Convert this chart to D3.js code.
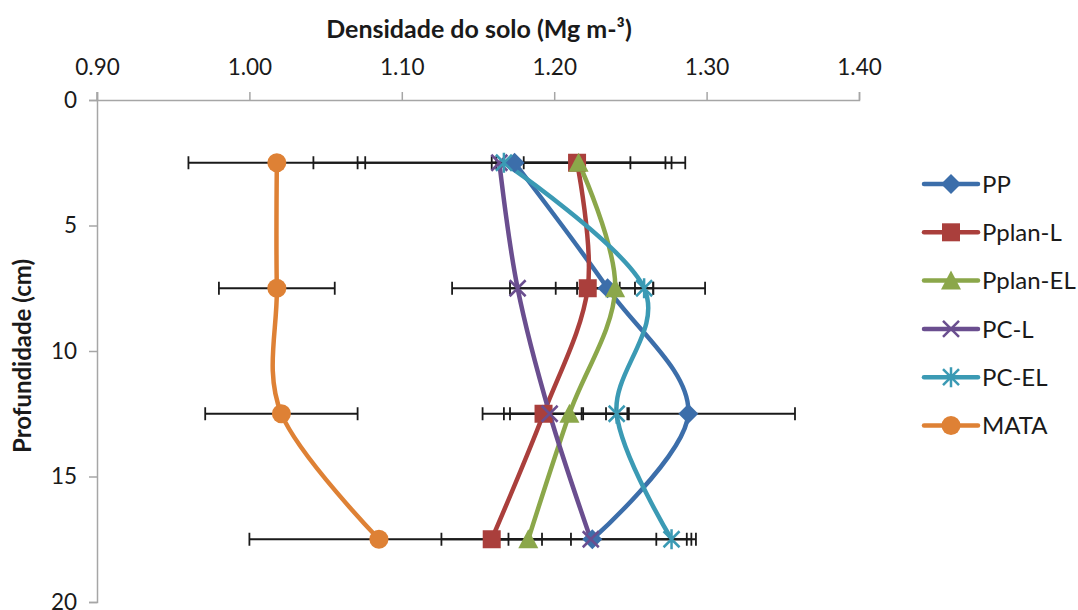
<!DOCTYPE html>
<html><head><meta charset="utf-8">
<script src="https://cdn.jsdelivr.net/npm/d3@7"></script>
<style>body{margin:0;background:#fff}svg{display:block}text{font-family:Lato,"Open Sans",sans-serif;fill:#1a1a1a}</style>
</head><body>
<svg id="c" width="1078" height="610"></svg>
<script>
const depths = [2.5, 7.5, 12.5, 17.5];
const seriesNames = ["PP", "Pplan-L", "Pplan-EL", "PC-L", "PC-EL", "MATA"];
const PP = [1.174, 1.235, 1.288, 1.225];
const PPerr = [0.103, 0.064, 0.070, 0.068];
const PplanL = [1.215, 1.222, 1.193, 1.159];
const PplanLerr = [0.035, 0.021, 0.026, 0.033];
const PplanEL = [1.216, 1.240, 1.210, 1.183];
const PplanELerr = [0.057, 0.025, 0.039, 0.028];
const PCL = [1.164, 1.176, 1.197, 1.224];
const PCLerr = [0.122, 0.043, 0.044, 0.066];
const PCEL = [1.167, 1.259, 1.241, 1.277];
const PCELerr = [0.005, 0.006, 0.007, 0.010];
const MATA = [1.018, 1.018, 1.021, 1.085];
const MATAerr = [0.058, 0.038, 0.050, 0.085];
const xTicks = [0.9, 1.0, 1.1, 1.2, 1.3, 1.4];
const yTicks = [0, 5, 10, 15, 20];
const colors = ["#3c6eaa", "#aa3f3c", "#8ba74a", "#6a4e8f", "#3b9ab4", "#de8135"];
const markers = ["diamond", "square", "triangle", "x", "star", "circle"];
const vals = [PP, PplanL, PplanEL, PCL, PCEL, MATA];
const errs = [PPerr, PplanLerr, PplanELerr, PCLerr, PCELerr, MATAerr];

const svg = d3.select("#c");
const x = d3.scaleLinear().domain([0.9, 1.4]).range([97, 859]);
const y = d3.scaleLinear().domain([0, 20]).range([100, 602]);

// axes
const xAxis = svg.append("g").attr("transform", `translate(0,${y(0)})`)
  .call(d3.axisTop(x).tickValues(xTicks).tickFormat(d3.format(".2f")).tickSize(8).tickPadding(17));
const yAxis = svg.append("g").attr("transform", `translate(${x(0.9)},0)`)
  .call(d3.axisLeft(y).tickValues(yTicks).tickSize(8).tickPadding(12));
[xAxis, yAxis].forEach(a => {
  a.select(".domain").attr("stroke", "#a6a6a6").attr("stroke-width", 1.5);
  a.selectAll(".tick line").attr("stroke", "#a6a6a6").attr("stroke-width", 1.5);
  a.selectAll(".tick text").attr("font-size", 22.5).attr("font-family", "Lato").attr("fill", "#1a1a1a");
});
svg.append("line").attr("x1", x(0.9)).attr("x2", x(0.9)).attr("y1", y(0) - 8).attr("y2", y(0)).attr("stroke", "#a6a6a6").attr("stroke-width", 1.5);

svg.append("text").attr("x", 479).attr("y", 38).attr("text-anchor", "middle")
  .attr("font-size", 25).attr("font-weight", "bold").text("Densidade do solo (Mg m-³)");
svg.append("text").attr("transform", `translate(31,${356}) rotate(-90)`).attr("text-anchor", "middle")
  .attr("font-size", 24).attr("font-weight", "bold").text("Profundidade (cm)");

const line = d3.line().x(d => x(d[0])).y(d => y(d[1])).curve(d3.curveCatmullRom.alpha(0));

function drawMarker(g, type, color) {
  if (type === "diamond") g.append("path").attr("d", "M0,-10L10,0L0,10L-10,0Z").attr("fill", color);
  else if (type === "square") g.append("rect").attr("x", -9).attr("y", -9).attr("width", 18).attr("height", 18).attr("fill", color);
  else if (type === "triangle") g.append("path").attr("d", "M0,-10L10,9L-10,9Z").attr("fill", color);
  else if (type === "circle") g.append("circle").attr("r", 9.5).attr("fill", color);
  else if (type === "x") g.append("path").attr("d", "M-8,-8L8,8M-8,8L8,-8").attr("stroke", color).attr("stroke-width", 2.5);
  else if (type === "star") g.append("path").attr("d", "M-8,-8L8,8M-8,8L8,-8M0,-10L0,10").attr("stroke", color).attr("stroke-width", 2.5);
}

const plot = svg.append("g");
vals.forEach((v, i) => {
  const pts = v.map((d, j) => [d, depths[j]]);
  plot.append("path").attr("d", line(pts)).attr("fill", "none").attr("stroke", colors[i])
    .attr("stroke-width", 4.5).attr("stroke-linecap", "round");
});
vals.forEach((v, i) => {
  v.forEach((d, j) => {
    const e = errs[i][j], yy = y(depths[j]);
    const g = plot.append("g").attr("stroke", "#1a1a1a").attr("stroke-width", 1.8);
    g.append("line").attr("x1", x(d - e)).attr("x2", x(d + e)).attr("y1", yy).attr("y2", yy);
    [d - e, d + e].forEach(c => g.append("line").attr("x1", x(c)).attr("x2", x(c)).attr("y1", yy - 6.5).attr("y2", yy + 6.5));
  });
});
vals.forEach((v, i) => {
  v.forEach((d, j) => {
    const g = plot.append("g").attr("transform", `translate(${x(d)},${y(depths[j])})`);
    drawMarker(g, markers[i], colors[i]);
  });
});

// legend
const leg = svg.append("g");
seriesNames.forEach((n, i) => {
  const yy = 184 + i * 48.3;
  leg.append("line").attr("x1", 924).attr("x2", 978).attr("y1", yy).attr("y2", yy)
    .attr("stroke", colors[i]).attr("stroke-width", 4.5).attr("stroke-linecap", "round");
  const g = leg.append("g").attr("transform", `translate(951,${yy})`);
  drawMarker(g, markers[i], colors[i]);
  leg.append("text").attr("x", 982).attr("y", yy).attr("dy", "0.36em").attr("font-size", 24).text(n);
});
</script>
</body></html>
